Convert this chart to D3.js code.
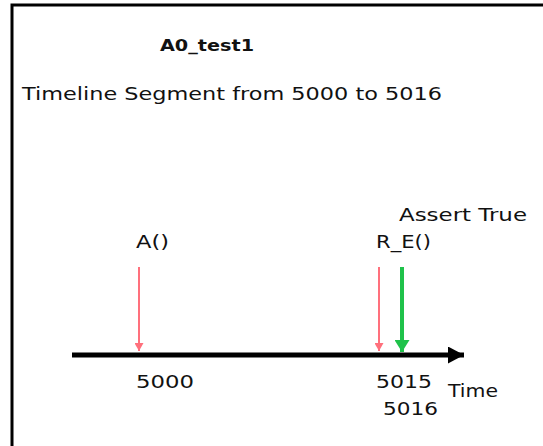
<!DOCTYPE html>
<html>
<head>
<meta charset="utf-8">
<script src="https://cdn.jsdelivr.net/npm/d3@7"></script>
<style>
  body { margin: 0; background: #fff; overflow: hidden; }
  svg { display: block; }
  svg text { font-family: "DejaVu Sans", Verdana, sans-serif; fill: #111; }
</style>
</head>
<body>
<script>
// chart data
const title = "A0_test1";
const subtitle = "Timeline Segment from 5000 to 5016";
const segment = [5000, 5016];
const events = ["A()", "R_E()"];
const eventTimes = [5000, 5015];
const asserts = ["Assert True"];
const assertTimes = [5016];
const axisLabel = "Time";

const width = 543, height = 446;
const axisY = 355;

const svg = d3.select("body").append("svg")
    .attr("width", width)
    .attr("height", height);

// frame (only top and left edges are visible)
svg.append("path")
    .attr("d", `M12,${height} V5 H${width + 5}`)
    .attr("fill", "none")
    .attr("stroke", "#000")
    .attr("stroke-width", 3);

// piecewise scale: assert arrow sits a bit after the last event
const x = d3.scaleLinear()
    .domain([segment[0], eventTimes[1], segment[1]])
    .range([139, 379, 402]);

const defs = svg.append("defs");
const marker = (id, color, w, h) => defs.append("marker")
    .attr("id", id)
    .attr("viewBox", `0 0 ${w} ${h}`)
    .attr("refX", w).attr("refY", h / 2)
    .attr("markerWidth", w).attr("markerHeight", h)
    .attr("markerUnits", "userSpaceOnUse")
    .attr("orient", "auto")
    .append("path")
    .attr("d", `M0,0 L${w},${h / 2} L0,${h} Z`)
    .attr("fill", color);
marker("head-black", "#000", 16, 17);
marker("head-red", "#ff707c", 8, 9);
marker("head-green", "#1fc24a", 12, 15);

svg.append("text")
    .attr("x", 207).attr("y", 51)
    .attr("text-anchor", "middle")
    .attr("font-weight", "bold")
    .attr("font-size", 16)
    .attr("textLength", 94)
    .attr("lengthAdjust", "spacingAndGlyphs")
    .text(title);

svg.append("text")
    .attr("x", 22).attr("y", 100)
    .attr("font-size", 18)
    .attr("textLength", 420)
    .attr("lengthAdjust", "spacingAndGlyphs")
    .text(subtitle);

// timeline
svg.append("line")
    .attr("x1", 72).attr("x2", 464)
    .attr("y1", axisY).attr("y2", axisY)
    .attr("stroke", "#000")
    .attr("stroke-width", 5)
    .attr("marker-end", "url(#head-black)");

// events (red arrows)
const ev = svg.append("g").selectAll("g")
    .data(events.map((name, i) => ({ name, t: eventTimes[i] })))
    .join("g");

ev.append("line")
    .attr("x1", d => x(d.t)).attr("x2", d => x(d.t))
    .attr("y1", 267).attr("y2", 351)
    .attr("stroke", "#ff707c")
    .attr("stroke-width", 2)
    .attr("marker-end", "url(#head-red)");

ev.append("text")
    .attr("x", d => x(d.t) - 3).attr("y", 248)
    .attr("font-size", 18)
    .attr("textLength", d => d.name.length * 11)
    .attr("lengthAdjust", "spacingAndGlyphs")
    .text(d => d.name);

ev.append("text")
    .attr("x", d => x(d.t) - 3).attr("y", 388)
    .attr("font-size", 18)
    .attr("textLength", d => d.t === 5000 ? 58 : 56)
    .attr("lengthAdjust", "spacingAndGlyphs")
    .text(d => d.t);

// asserts (green arrows)
const as = svg.append("g").selectAll("g")
    .data(asserts.map((name, i) => ({ name, t: assertTimes[i] })))
    .join("g");

as.append("line")
    .attr("x1", d => x(d.t)).attr("x2", d => x(d.t))
    .attr("y1", 267).attr("y2", 352)
    .attr("stroke", "#1fc24a")
    .attr("stroke-width", 4)
    .attr("marker-end", "url(#head-green)");

as.append("text")
    .attr("x", d => x(d.t) - 3).attr("y", 221)
    .attr("font-size", 17)
    .attr("textLength", 128)
    .attr("lengthAdjust", "spacingAndGlyphs")
    .text(d => d.name);

as.append("text")
    .attr("x", d => x(d.t) - 19).attr("y", 415)
    .attr("font-size", 18)
    .attr("textLength", 55)
    .attr("lengthAdjust", "spacingAndGlyphs")
    .text(d => d.t);

svg.append("text")
    .attr("x", 448).attr("y", 397)
    .attr("font-size", 18)
    .attr("textLength", 50)
    .attr("lengthAdjust", "spacingAndGlyphs")
    .text(axisLabel);
</script>
</body>
</html>
